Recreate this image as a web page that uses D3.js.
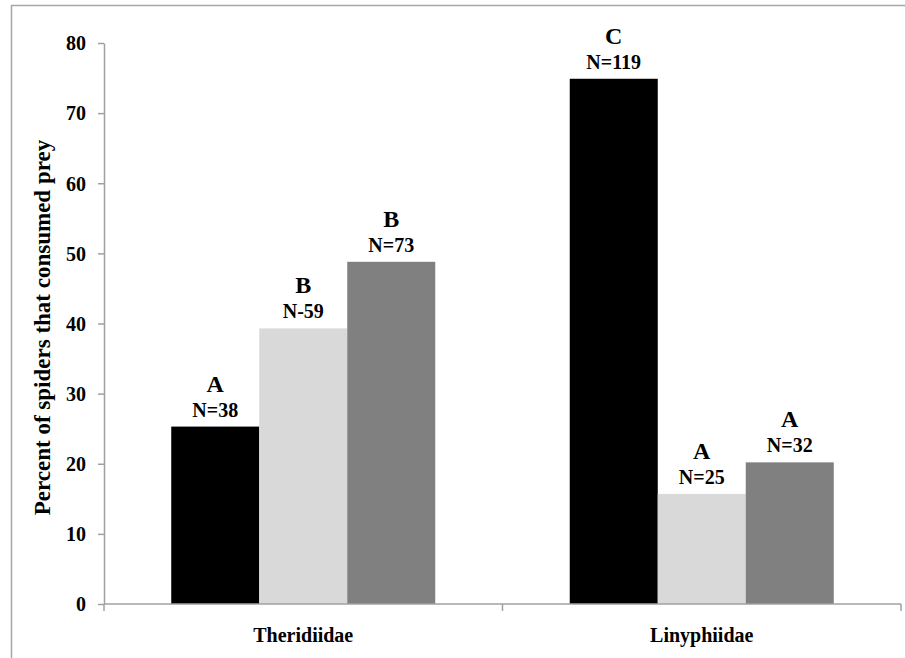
<!DOCTYPE html>
<html>
<head>
<meta charset="utf-8">
<script src="https://cdn.jsdelivr.net/npm/d3@7"></script>
<style>
  html, body { margin: 0; padding: 0; background: #fff; }
  svg { display: block; }
  text { font-family: "Liberation Serif", "Times New Roman", serif; font-weight: bold; fill: #000; }
</style>
</head>
<body>
<svg id="chart" width="905" height="658"></svg>
<script>
// Spider families on the x axis
const families = ["Theridiidae", "Linyphiidae"];
// Three prey treatments per family, drawn left to right
const treatments = ["t1", "t2", "t3"];
const treatmentColors = ["#000000", "#d9d9d9", "#808080"];
// Percent of spiders that consumed prey
const theridiidaeValues = [25.3, 39.3, 48.8];
const linyphiidaeValues = [74.9, 15.7, 20.2];
// Significance letters and sample sizes above each bar
const theridiidaeLetters = ["A", "B", "B"];
const linyphiidaeLetters = ["C", "A", "A"];
const theridiidaeN = ["N=38", "N-59", "N=73"];
const linyphiidaeN = ["N=119", "N=25", "N=32"];
const yTicks = [0, 10, 20, 30, 40, 50, 60, 70, 80];

const rows = [
  { family: families[0], values: theridiidaeValues, letters: theridiidaeLetters, ns: theridiidaeN },
  { family: families[1], values: linyphiidaeValues, letters: linyphiidaeLetters, ns: linyphiidaeN }
];

const svg = d3.select("#chart");
const plotLeft = 104, plotRight = 901, plotTop = 43, plotBottom = 604;

// outer frame
svg.append("rect")
  .attr("x", 11.5).attr("y", 5.5)
  .attr("width", 900).attr("height", 660)
  .attr("fill", "none").attr("stroke", "#a6a6a6").attr("stroke-width", 1.5);

const x = d3.scaleBand().domain(families).range([plotLeft, plotRight]).padding(0);
const bw = x.bandwidth();
const groupFrac = 0.6625;
const xs = d3.scaleBand().domain(treatments)
  .range([bw * (1 - groupFrac) / 2, bw * (1 + groupFrac) / 2]).padding(0);
const y = d3.scaleLinear().domain([0, 80]).range([plotBottom, plotTop]);

// y axis
const yAxis = svg.append("g")
  .attr("transform", `translate(${plotLeft},0)`)
  .call(d3.axisLeft(y).tickValues(yTicks).tickSize(6).tickSizeOuter(0).tickPadding(12));
yAxis.select(".domain").attr("stroke", "#a0a0a0").attr("stroke-width", 1.5);
yAxis.selectAll(".tick line").attr("stroke", "#a0a0a0").attr("stroke-width", 1.5);
yAxis.selectAll(".tick text")
  .attr("font-family", "Liberation Serif, serif").attr("font-weight", "bold")
  .attr("font-size", 20).attr("fill", "#000").attr("dy", "0.34em");

// bars
const groups = svg.selectAll("g.family").data(rows).join("g")
  .attr("class", "family")
  .attr("transform", d => `translate(${x(d.family)},0)`);

groups.selectAll("rect").data(d => d.values.map((v, i) => ({ v, i })))
  .join("rect")
  .attr("x", d => xs(treatments[d.i]))
  .attr("width", xs.bandwidth())
  .attr("y", d => y(d.v))
  .attr("height", d => y(0) - y(d.v))
  .attr("fill", d => treatmentColors[d.i]);

// sample size labels
groups.selectAll("text.n").data(d => d.values.map((v, i) => ({ v, i, n: d.ns[i] })))
  .join("text").attr("class", "n")
  .attr("x", d => xs(treatments[d.i]) + xs.bandwidth() / 2)
  .attr("y", d => y(d.v) - 10)
  .attr("text-anchor", "middle")
  .attr("font-size", 20)
  .text(d => d.n);

// significance letters
groups.selectAll("text.letter").data(d => d.values.map((v, i) => ({ v, i, letter: d.letters[i] })))
  .join("text").attr("class", "letter")
  .attr("x", d => xs(treatments[d.i]) + xs.bandwidth() / 2)
  .attr("y", d => y(d.v) - 35)
  .attr("text-anchor", "middle")
  .attr("font-size", 24)
  .text(d => d.letter);

// x axis line and boundary ticks
const xAxis = svg.append("g");
xAxis.append("line")
  .attr("x1", plotLeft).attr("x2", plotRight).attr("y1", plotBottom).attr("y2", plotBottom)
  .attr("stroke", "#a0a0a0").attr("stroke-width", 1.5);
const bounds = families.map(f => x(f)).concat([plotRight]);
xAxis.selectAll("line.tick").data(bounds).join("line").attr("class", "tick")
  .attr("x1", d => d).attr("x2", d => d)
  .attr("y1", plotBottom).attr("y2", plotBottom + 7)
  .attr("stroke", "#a0a0a0").attr("stroke-width", 1.5);
xAxis.selectAll("text").data(families).join("text")
  .attr("x", d => x(d) + bw / 2)
  .attr("y", 642)
  .attr("text-anchor", "middle")
  .attr("font-size", 20)
  .text(d => d);

// y axis title
svg.append("text")
  .attr("transform", `translate(50,${(plotTop + plotBottom) / 2 + 4}) rotate(-90)`)
  .attr("text-anchor", "middle")
  .attr("font-size", 23)
  .text("Percent of spiders that consumed prey");
</script>
</body>
</html>
